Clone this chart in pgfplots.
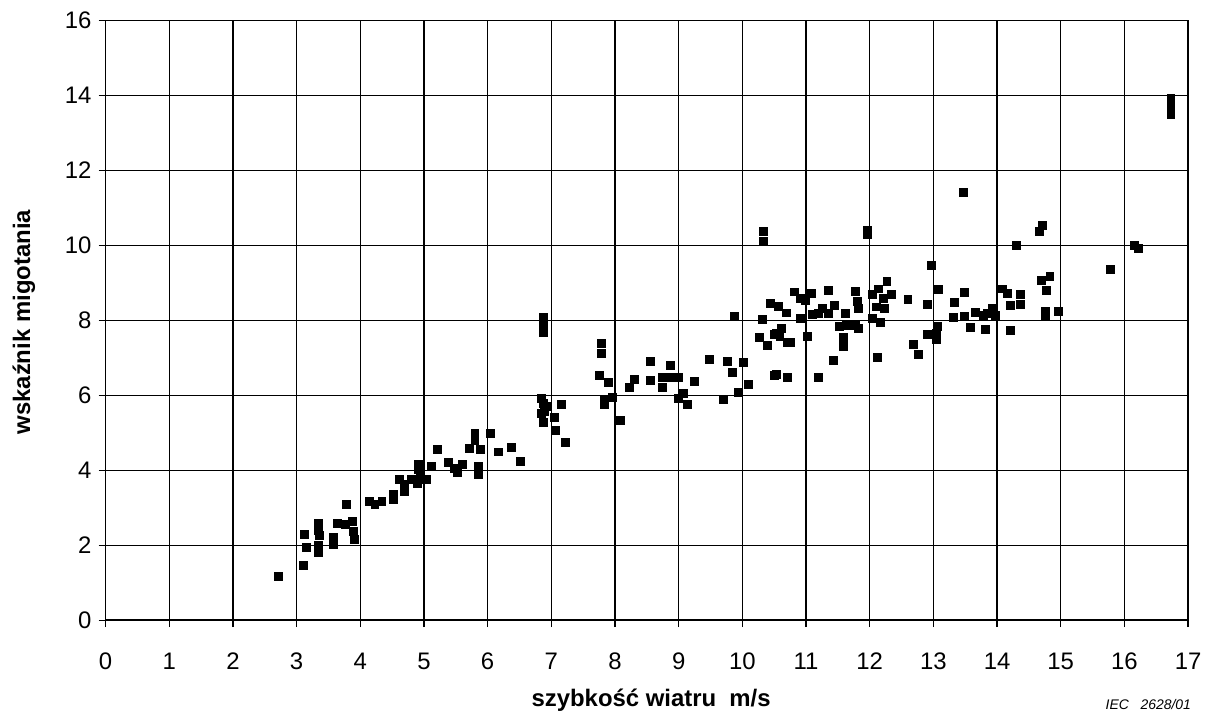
\documentclass[border=0pt]{standalone}
\usepackage{pgfplots}
\pgfplotsset{compat=1.18}
\usepackage{fontspec}
\setmainfont{Liberation Sans}

\begin{document}
\begin{tikzpicture}
\begin{axis}[
    scale only axis,
    width=543.5pt, height=301pt,
    xmin=0, xmax=17, ymin=0, ymax=16,
    xtick={0,1,...,17}, ytick={0,2,...,16},
    grid=major,
    grid style={black, line width=0.6pt},
    axis line style={black, line width=0.8pt},
    tick align=outside,
    major tick length=3.5pt,
    tick style={black, line width=0.6pt},
    xtick pos=bottom, ytick pos=left,
    /pgf/number format/assume math mode=true,
    tick label style={font=\fontsize{12}{14}\selectfont},
    xticklabel style={yshift=-9.5pt},
    xlabel={szybkość wiatru\ \ m/s},
    ylabel={wskaźnik migotania},
    label style={font=\fontsize{12}{14}\selectfont\bfseries},
    xlabel style={at={(axis description cs:0.504,-0.134)}, anchor=center},
    ylabel style={at={(axis description cs:-0.0754,0.497)}, anchor=center, rotate=0},
    clip=false,
]
\addplot[only marks, mark=square*, mark size=2pt, mark options={fill=black, draw=black}] coordinates {
(2.71,1.17) (3.10,1.45) (3.15,1.94) (3.12,2.29) (3.35,2.58) (3.35,2.40)
(3.36,2.25) (3.35,1.99) (3.35,1.81) (3.58,2.22) (3.58,2.03) (3.78,3.09)
(3.64,2.58) (3.76,2.56) (3.87,2.63) (3.89,2.38) (3.91,2.16)
(4.14,3.18) (4.23,3.09) (4.34,3.18) (4.52,3.36) (4.52,3.22) (4.62,3.75)
(4.70,3.62) (4.70,3.44) (4.81,3.75) (4.89,3.66) (4.94,3.78) (5.04,3.75)
(4.91,4.17) (4.91,4.02) (5.11,4.11) (5.21,4.55) (5.39,4.20) (5.48,4.06)
(5.53,3.93) (5.61,4.15) (5.71,4.59) (5.80,4.99) (5.80,4.79) (5.89,4.55)
(5.85,4.11) (5.85,3.90) (6.04,4.99) (6.17,4.49) (6.37,4.62) (6.52,4.24)
(6.88,8.07) (6.88,7.90) (6.87,7.68) (6.84,5.92) (6.87,5.79) (6.94,5.70)
(6.84,5.52) (6.89,5.57) (7.16,5.77) (7.05,5.41) (6.87,5.29) (7.06,5.07)
(7.22,4.75) (7.78,7.38) (7.79,7.12) (7.75,6.52) (7.90,6.34) (7.83,5.90)
(7.83,5.75) (7.96,5.94) (8.08,5.32) (8.22,6.21) (8.31,6.43) (8.56,6.91)
(8.56,6.41) (8.75,6.22) (8.74,6.48) (8.85,6.47) (8.87,6.81) (9.00,6.47)
(9.07,6.06) (9.00,5.92) (9.13,5.75) (9.24,6.38) (9.48,6.97) (9.71,5.90)
(9.77,6.91) (9.84,6.60) (10.01,6.87) (9.88,8.12) (9.94,6.08) (10.10,6.30)
(10.31,8.03) (10.27,7.54) (10.40,7.32) (10.50,7.63) (10.44,8.45) (10.50,6.54)
(10.33,10.37) (10.33,10.10) (11.96,10.39) (11.96,10.30)
(10.57,8.38) (10.69,8.20) (10.53,7.65) (10.61,7.78) (10.59,7.58) (10.70,7.41)
(10.76,7.41) (10.53,6.56) (10.71,6.48) (10.81,8.76) (10.91,8.05) (10.91,8.58)
(10.99,8.53) (11.08,8.71) (11.02,7.56) (11.10,8.15) (11.19,8.18) (11.26,8.33)
(11.35,8.18) (11.35,8.80) (11.45,8.40) (11.20,6.47) (11.43,6.94) (11.53,7.83)
(11.63,7.87) (11.59,7.54) (11.59,7.30) (11.77,7.87) (11.82,7.78) (11.62,8.18)
(11.77,8.77) (11.80,8.51) (11.82,8.31) (12.05,8.69) (12.13,8.84) (12.27,9.04)
(12.21,8.58) (12.34,8.69) (12.10,8.36) (12.23,8.31) (12.05,8.05) (12.17,7.94)
(12.12,7.01) (12.60,8.55) (12.68,7.37) (12.77,7.09) (12.97,9.48) (12.91,8.42)
(13.08,8.83) (13.06,7.83) (12.91,7.62) (13.04,7.65) (13.04,7.50) (13.33,8.49)
(13.48,8.74) (13.31,8.07) (13.49,8.12) (13.58,7.80) (13.81,7.76) (13.66,8.21)
(13.78,8.14) (13.85,8.18) (13.93,8.23) (13.98,8.14) (13.93,8.31) (13.47,11.41)
(14.31,9.99) (14.08,8.84) (14.16,8.71) (14.21,8.40) (14.37,8.69) (14.37,8.42)
(14.21,7.74) (14.71,10.54) (14.67,10.37) (14.69,9.07) (14.83,9.18) (14.77,8.80)
(14.76,8.23) (14.76,8.14) (14.96,8.23) (15.78,9.35) (16.16,9.99) (16.22,9.91)
(16.73,13.92) (16.73,13.74) (16.73,13.49)
};
\node[anchor=east, font=\fontsize{7}{8}\selectfont\itshape] at (axis description cs:1.0092,-0.141) {IEC\ \ \ 2628/01};
\path (axis description cs:-0.0975,-0.1628) rectangle (axis description cs:1.0138,1.0344);
\end{axis}
\end{tikzpicture}
\end{document}
